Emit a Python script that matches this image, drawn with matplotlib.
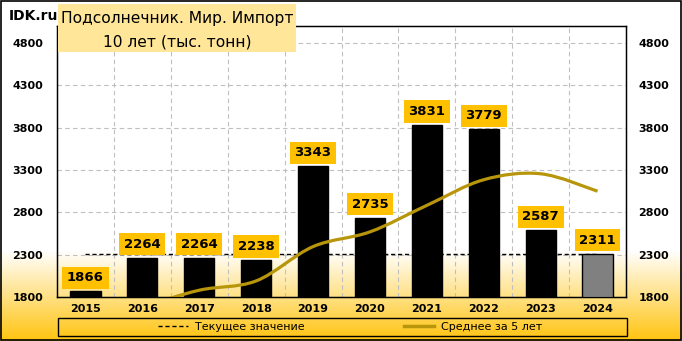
import numpy as np
import matplotlib
matplotlib.use("Agg")
import matplotlib.pyplot as plt
from matplotlib.path import Path
from matplotlib.patches import PathPatch, Rectangle
from matplotlib.lines import Line2D

years = ["2015", "2016", "2017", "2018", "2019", "2020", "2021", "2022", "2023", "2024"]
values = [1866, 2264, 2264, 2238, 3343, 2735, 3831, 3779, 2587, 2311]
# 5-year average (early points use older history)
avg5 = [1450, 1680, 1880, 1990, 2395, 2569, 2882, 3185, 3255, 3049]
current = 2311
yticks = [1800, 2300, 2800, 3300, 3800, 4300, 4800]

gold = "#FFC000"
line_gold = "#B8960B"

fig = plt.figure(figsize=(6.82, 3.41), dpi=100)

# background gradient
bg = fig.add_axes([0, 0, 1, 1], zorder=-10)
rows = 341
col = np.ones((rows, 1, 3))
for i in range(rows):
    if i > 250:
        f = (i - 250) / (341 - 250)
        col[i, 0] = [1.0, 1 - f * (1 - 195 / 255), 1 - f * 0.95]
bg.imshow(col, aspect="auto", extent=[0, 1, 0, 1])
bg.axis("off")
fig.patches.append(Rectangle((0.001, 0.002), 0.997, 0.995, transform=fig.transFigure,
                             fill=False, edgecolor="black", lw=1.2, zorder=5))

ax = fig.add_axes([57 / 682, 1 - 297 / 341, (626 - 57) / 682, (297 - 26) / 341])
ax.set_facecolor("none")
x = np.arange(len(years))
colors = ["black"] * 9 + ["#808080"]
ax.bar(x, values, width=0.53, color=colors, edgecolor="black", lw=1, zorder=3)
ax.set_xlim(-0.5, 9.5)
ax.set_ylim(1800, 5000)
ax.set_yticks(yticks)
ax.set_xticks(x)
ax.set_xticklabels(years, fontweight="bold", fontsize=8)
ax.set_yticklabels([str(t) for t in yticks], fontweight="bold", fontsize=8)
ax.set_xticks(np.arange(0.5, 9, 1), minor=True)
ax.tick_params(which="both", length=0)
ax.tick_params(axis="y", pad=10)
ax.tick_params(axis="x", pad=5)
ax.grid(axis="y", color="#BFBFBF", ls=(0, (4, 3)), lw=0.8, zorder=0)
ax.grid(axis="x", which="minor", color="#BFBFBF", ls=(0, (4, 3)), lw=0.8, zorder=0)
for s in ax.spines.values():
    s.set_color("black")
    s.set_linewidth(1)

ax2 = ax.twinx()
ax2.set_ylim(1800, 5000)
ax2.set_yticks(yticks)
ax2.set_yticklabels([str(t) for t in yticks], fontweight="bold", fontsize=8)
ax2.tick_params(length=0, pad=9)

# current value line
ax.plot([0, 9], [current, current], color="black", ls=(0, (3, 2)), lw=1, zorder=2)

# smoothed 5-year average (Catmull-Rom bezier)
pts = np.column_stack([x.astype(float), avg5])
verts = [pts[0]]
codes = [Path.MOVETO]
for i in range(len(pts) - 1):
    p0 = pts[i - 1] if i > 0 else pts[i]
    p1 = pts[i]
    p2 = pts[i + 1]
    p3 = pts[i + 2] if i + 2 < len(pts) else pts[i + 1]
    c1 = p1 + (p2 - p0) / 6
    c2 = p2 - (p3 - p1) / 6
    verts += [c1, c2, p2]
    codes += [Path.CURVE4] * 3
patch = PathPatch(Path(verts, codes), fill=False, edgecolor=line_gold, lw=2.3,
                  zorder=4, capstyle="butt")
ax.add_patch(patch)
patch.set_clip_path(ax.patch)

for xi, v in zip(x, values):
    ax.annotate(str(v), (xi, v), xytext=(0, 5), textcoords="offset points",
                ha="center", va="bottom", fontsize=9.5, fontweight="bold", zorder=6,
                bbox=dict(boxstyle="square,pad=0.35", fc=gold, ec="none"))

# title box
fig.patches.append(Rectangle((58 / 682, 1 - 52 / 341), (296 - 58) / 682, 48 / 341,
                             transform=fig.transFigure, fc="#FFE699", ec="none", zorder=6))
fig.text(177 / 682, 1 - 18 / 341, "Подсолнечник. Мир. Импорт", ha="center", va="center",
         fontsize=11.2, zorder=7)
fig.text(177 / 682, 1 - 42 / 341, "10 лет (тыс. тонн)", ha="center", va="center",
         fontsize=11.2, zorder=7)
fig.text(9 / 682, 1 - 16 / 341, "IDK.ru", ha="left", va="center", fontsize=10,
         fontweight="bold", zorder=7)

# legend
handles = [Line2D([], [], color="black", ls=(0, (3, 2)), lw=1),
           Line2D([], [], color=line_gold, lw=2.5)]
leg = fig.legend(handles, ["Текущее значение", "Среднее за 5 лет"], ncol=2,
                 loc="center", bbox_to_anchor=(350 / 682, 1 - 327 / 341),
                 prop=dict(size=8), frameon=False, columnspacing=9, handlelength=2.7,
                 handletextpad=0.6)
fig.patches.append(Rectangle((58 / 682, 1 - 336 / 341), (627 - 58) / 682, 18 / 341,
                             transform=fig.transFigure, fill=False, ec="black", lw=1, zorder=6))

fig.savefig("out.png", dpi=100)
